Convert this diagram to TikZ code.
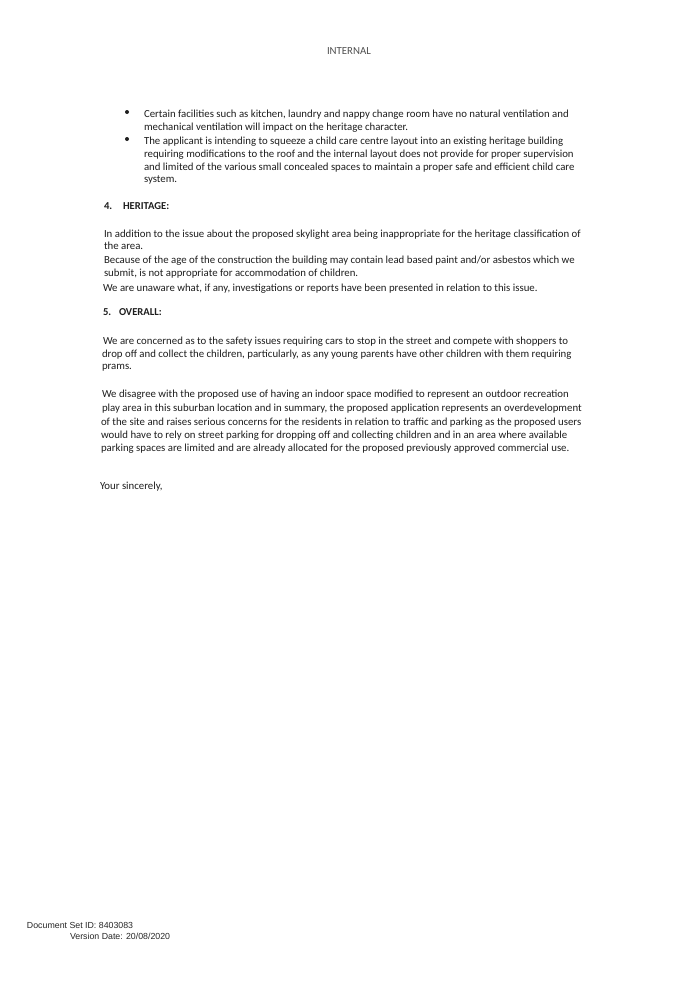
\documentclass[tikz,border=0pt]{standalone}
\usepackage{fontspec}
\setmainfont{Carlito}
\newfontfamily\footfont{Liberation Sans}
\definecolor{ink}{HTML}{1E1E1E}
\definecolor{softink}{HTML}{505050}
\definecolor{footink}{HTML}{262626}
\tikzset{
  txt/.style={anchor=base west,inner sep=0pt,outer sep=0pt,text=ink,font=\fontsize{10.8}{12}\selectfont},
  head/.style={txt,font=\fontsize{10.6}{12}\selectfont\bfseries},
  top/.style={txt,text=softink,font=\fontsize{10.8}{12}\selectfont},
  foot/.style={anchor=base west,inner sep=0pt,outer sep=0pt,text=footink,font=\fontsize{8.8}{10}\footfont},
  bul/.style={circle,fill=ink,inner sep=0pt,minimum size=4pt}
}
\begin{document}
\begin{tikzpicture}[x=1pt,y=-1pt]
\path[use as bounding box,fill=white] (0,0) rectangle (694,990);
\node[top] (int) at (327,55) {INTERNAL};
\node[bul] (b1) at (127,112) {};
\node[txt] (a1) at (144,117) {Certain facilities such as kitchen, laundry and nappy change room have no natural ventilation and};
\node[txt] (a2) at (144,130) {mechanical ventilation will impact on the heritage character.};
\node[bul] (b2) at (127,139) {};
\node[txt] (a3) at (144,144) {The applicant is intending to squeeze a child care centre layout into an existing heritage building};
\node[txt] (a4) at (144,157) {requiring modifications to the roof and the internal layout does not provide for proper supervision};
\node[txt] (a5) at (144,170) {and limited of the various small concealed spaces to maintain a proper safe and efficient child care};
\node[txt] (a6) at (144,182) {system.};
\node[head] (h4n) at (104,209) {4.};
\node[head] (h4) at (123,209) {HERITAGE:};
\node[txt] (c1) at (104,237) {In addition to the issue about the proposed skylight area being inappropriate for the heritage classification of};
\node[txt] (c2) at (104,249) {the area.};
\node[txt] (c3) at (104,263) {Because of the age of the construction the building may contain lead based paint and/or asbestos which we};
\node[txt] (c4) at (104,276) {submit, is not appropriate for accommodation of children.};
\node[txt] (c5) at (103,291) {We are unaware what, if any, investigations or reports have been presented in relation to this issue.};
\node[head] (h5n) at (103,315) {5.};
\node[head] (h5) at (119,315) {OVERALL:};
\node[txt] (d1) at (103,344) {We are concerned as to the safety issues requiring cars to stop in the street and compete with shoppers to};
\node[txt] (d2) at (102,357) {drop off and collect the children, particularly, as any young parents have other children with them requiring};
\node[txt] (d3) at (102,369) {prams.};
\node[txt] (e1) at (102,397) {We disagree with the proposed use of having an indoor space modified to represent an outdoor recreation};
\node[txt] (e2) at (102,411) {play area in this suburban location and in summary, the proposed application represents an overdevelopment};
\node[txt] (e3) at (101,425) {of the site and raises serious concerns for the residents in relation to traffic and parking as the proposed users};
\node[txt] (e4) at (101,438) {would have to rely on street parking for dropping off and collecting children and in an area where available};
\node[txt] (e5) at (101,451) {parking spaces are limited and are already allocated for the proposed previously approved commercial use.};
\node[txt] (f1) at (100,489) {Your sincerely,};
\node[foot] (g1) at (27,928) {Document Set ID: 8403083};
\node[foot] (g2) at (70,939) {Version Date: 20/08/2020};
\end{tikzpicture}
\end{document}
